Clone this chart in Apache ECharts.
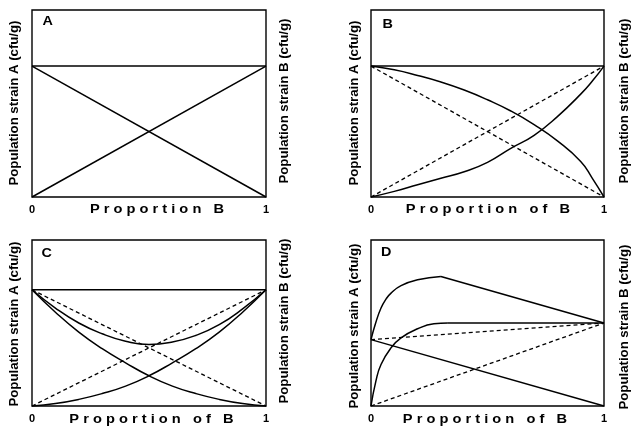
<!DOCTYPE html>
<html>
<head>
<meta charset="utf-8">
<script src="https://cdn.jsdelivr.net/npm/echarts@6/dist/echarts.min.js"></script>
<style>
  html, body { margin: 0; padding: 0; background: #fff; }
  #chart { width: 632px; height: 426px; }
</style>
</head>
<body>
<div id="chart"></div>
<script>
// Proportion of strain B (x) and populations in arbitrary cfu/g units (0..10 axis)
const xEnds = [0, 1];
const xTickLabels = ['0', '1'];

// Panel A: populations proportional to inoculum share
const aStrainA = [7, 0];
const aStrainB = [0, 7];
const aTotal = [7, 7];

// Panel B
const bX = [0, 0.1, 0.2, 0.3, 0.4, 0.5, 0.6, 0.7, 0.8, 0.9, 0.95, 1];
const bStrainA = [7.0, 6.8, 6.5, 6.15, 5.72, 5.2, 4.6, 3.87, 3.0, 1.9, 1.0, 0];
const bStrainB = [0, 0.3, 0.65, 1.0, 1.35, 1.85, 2.6, 3.3, 4.3, 5.5, 6.2, 7.0];
const bLinearA = [7, 0];
const bLinearB = [0, 7];
const bTotal = [7, 7];

// Panel C
const cX = [0, 0.1, 0.2, 0.3, 0.4, 0.5, 0.6, 0.7, 0.8, 0.9, 1];
const cStrainA = [7.0, 5.65, 4.45, 3.45, 2.6, 1.82, 1.2, 0.75, 0.4, 0.15, 0];
const cStrainB = [0, 0.15, 0.4, 0.75, 1.2, 1.82, 2.6, 3.45, 4.45, 5.65, 7.0];
const cTotal = [7.0, 5.9, 5.0, 4.35, 3.9, 3.7, 3.85, 4.25, 4.9, 5.85, 7.0];
const cLinearA = [7, 0];
const cLinearB = [0, 7];
const cCapacity = [7, 7];

// Panel D
const dTotalRiseX = [0, 0.02, 0.043, 0.065, 0.086, 0.129, 0.2, 0.3];
const dTotalRise = [4.0, 5.0, 5.9, 6.45, 6.8, 7.25, 7.6, 7.8];
const dTotalFallX = [0.3, 1];
const dTotalFall = [7.8, 5.0];
const dStrainBRiseX = [0, 0.021, 0.043, 0.086, 0.129, 0.2, 0.27, 0.33];
const dStrainBRise = [0, 1.5, 2.5, 3.5, 4.1, 4.65, 4.95, 5.0];
const dStrainBFlatX = [0.33, 1];
const dStrainBFlat = [5.0, 5.0];
const dStrainA = [4.0, 0];
const dLinearTotal = [4.0, 5.0];
const dLinearB = [0, 5.0];

const pairs = (xs, ys) => xs.map((x, i) => [x, ys[i]]);

const FONT = '"Liberation Sans", Arial, Helvetica, sans-serif';
const INK = '#000';

const grids = [
  { left: 32, top: 10, width: 234, height: 187 },
  { left: 371, top: 10, width: 233, height: 187 },
  { left: 32, top: 240, width: 234, height: 166 },
  { left: 371, top: 240, width: 233, height: 166 }
].map(g => Object.assign(g, {
  show: true, borderColor: INK, borderWidth: 1.4,
  backgroundColor: 'transparent', outerBoundsMode: 'none'
}));

const xAxes = grids.map((g, i) => ({
  type: 'value', gridIndex: i, min: 0, max: 1, interval: 1,
  axisLine: { show: false }, axisTick: { show: false }, splitLine: { show: false },
  axisLabel: {
    show: true, margin: 7, color: INK, fontSize: 11, fontWeight: 'bold', fontFamily: FONT,
    formatter: v => xTickLabels[v]
  }
}));

const yAxes = grids.map((g, i) => ({
  type: 'value', gridIndex: i, min: 0, max: 10,
  axisLine: { show: false }, axisTick: { show: false }, splitLine: { show: false },
  axisLabel: { show: false }
}));

function line(grid, xs, ys, dashed, smooth) {
  return {
    type: 'line', xAxisIndex: grid, yAxisIndex: grid,
    data: pairs(xs, ys), showSymbol: false, symbol: 'none',
    smooth: smooth ? 0.5 : false,
    clip: false, silent: true, animation: false,
    lineStyle: { color: INK, width: dashed ? 1.3 : 1.5, type: dashed ? [4, 3] : 'solid' }
  };
}

const series = [
  // A
  line(0, xEnds, aStrainA), line(0, xEnds, aStrainB), line(0, xEnds, aTotal),
  // B
  line(1, xEnds, bTotal),
  line(1, xEnds, bLinearA, true), line(1, xEnds, bLinearB, true),
  line(1, bX, bStrainA, false, true), line(1, bX, bStrainB, false, true),
  // C
  line(2, xEnds, cCapacity),
  line(2, xEnds, cLinearA, true), line(2, xEnds, cLinearB, true),
  line(2, cX, cStrainA, false, true), line(2, cX, cStrainB, false, true),
  line(2, cX, cTotal, false, true),
  // D
  line(3, xEnds, dLinearTotal, true), line(3, xEnds, dLinearB, true),
  line(3, xEnds, dStrainA),
  line(3, dTotalRiseX, dTotalRise, false, true), line(3, dTotalFallX, dTotalFall),
  line(3, dStrainBRiseX, dStrainBRise, false, true), line(3, dStrainBFlatX, dStrainBFlat)
];

function text(x, y, str, opt) {
  opt = opt || {};
  return {
    type: 'text', x: x, y: y, silent: true,
    rotation: opt.rotate ? Math.PI / 2 : 0,
    scaleX: opt.scaleX || 1, scaleY: 1,
    style: {
      text: str, fill: INK,
      font: 'bold ' + (opt.size || 12) + 'px ' + FONT,
      align: opt.align || 'center', verticalAlign: opt.valign || 'middle',
      textAlign: opt.align || 'center', textVerticalAlign: opt.valign || 'middle'
    }
  };
}

const yTitleA = 'Population strain A (cfu/g)';
const yTitleB = 'Population strain B (cfu/g)';
const xTitleShort = 'P r o p o r t i o n   B';
const xTitleLong = 'P r o p o r t i o n   o f   B';

const yLab = { rotate: true, size: 12, scaleX: 1.1 };
const xLab = { size: 12, scaleX: 1.22 };
const tag = { size: 12, scaleX: 1.2, align: 'left', valign: 'top' };

const graphics = [
  text(15, 103, yTitleA, yLab), text(285, 101, yTitleB, yLab),
  text(354.5, 103, yTitleA, yLab), text(625, 101, yTitleB, yLab),
  text(15, 324, yTitleA, yLab), text(285, 321, yTitleB, yLab),
  text(354.5, 326, yTitleA, yLab), text(625, 327, yTitleB, yLab),
  text(157, 210, xTitleShort, xLab), text(488, 210, xTitleLong, xLab),
  text(151.5, 419.5, xTitleLong, xLab), text(485, 419.5, xTitleLong, xLab),
  text(42.5, 15.5, 'A', tag), text(382.5, 19, 'B', tag),
  text(41.5, 248, 'C', tag), text(381, 246.5, 'D', tag)
];

const chart = echarts.init(document.getElementById('chart'), null, { renderer: 'canvas' });
chart.setOption({
  animation: false,
  backgroundColor: '#fff',
  grid: grids,
  xAxis: xAxes,
  yAxis: yAxes,
  series: series,
  graphic: { elements: graphics }
});
</script>
</body>
</html>
